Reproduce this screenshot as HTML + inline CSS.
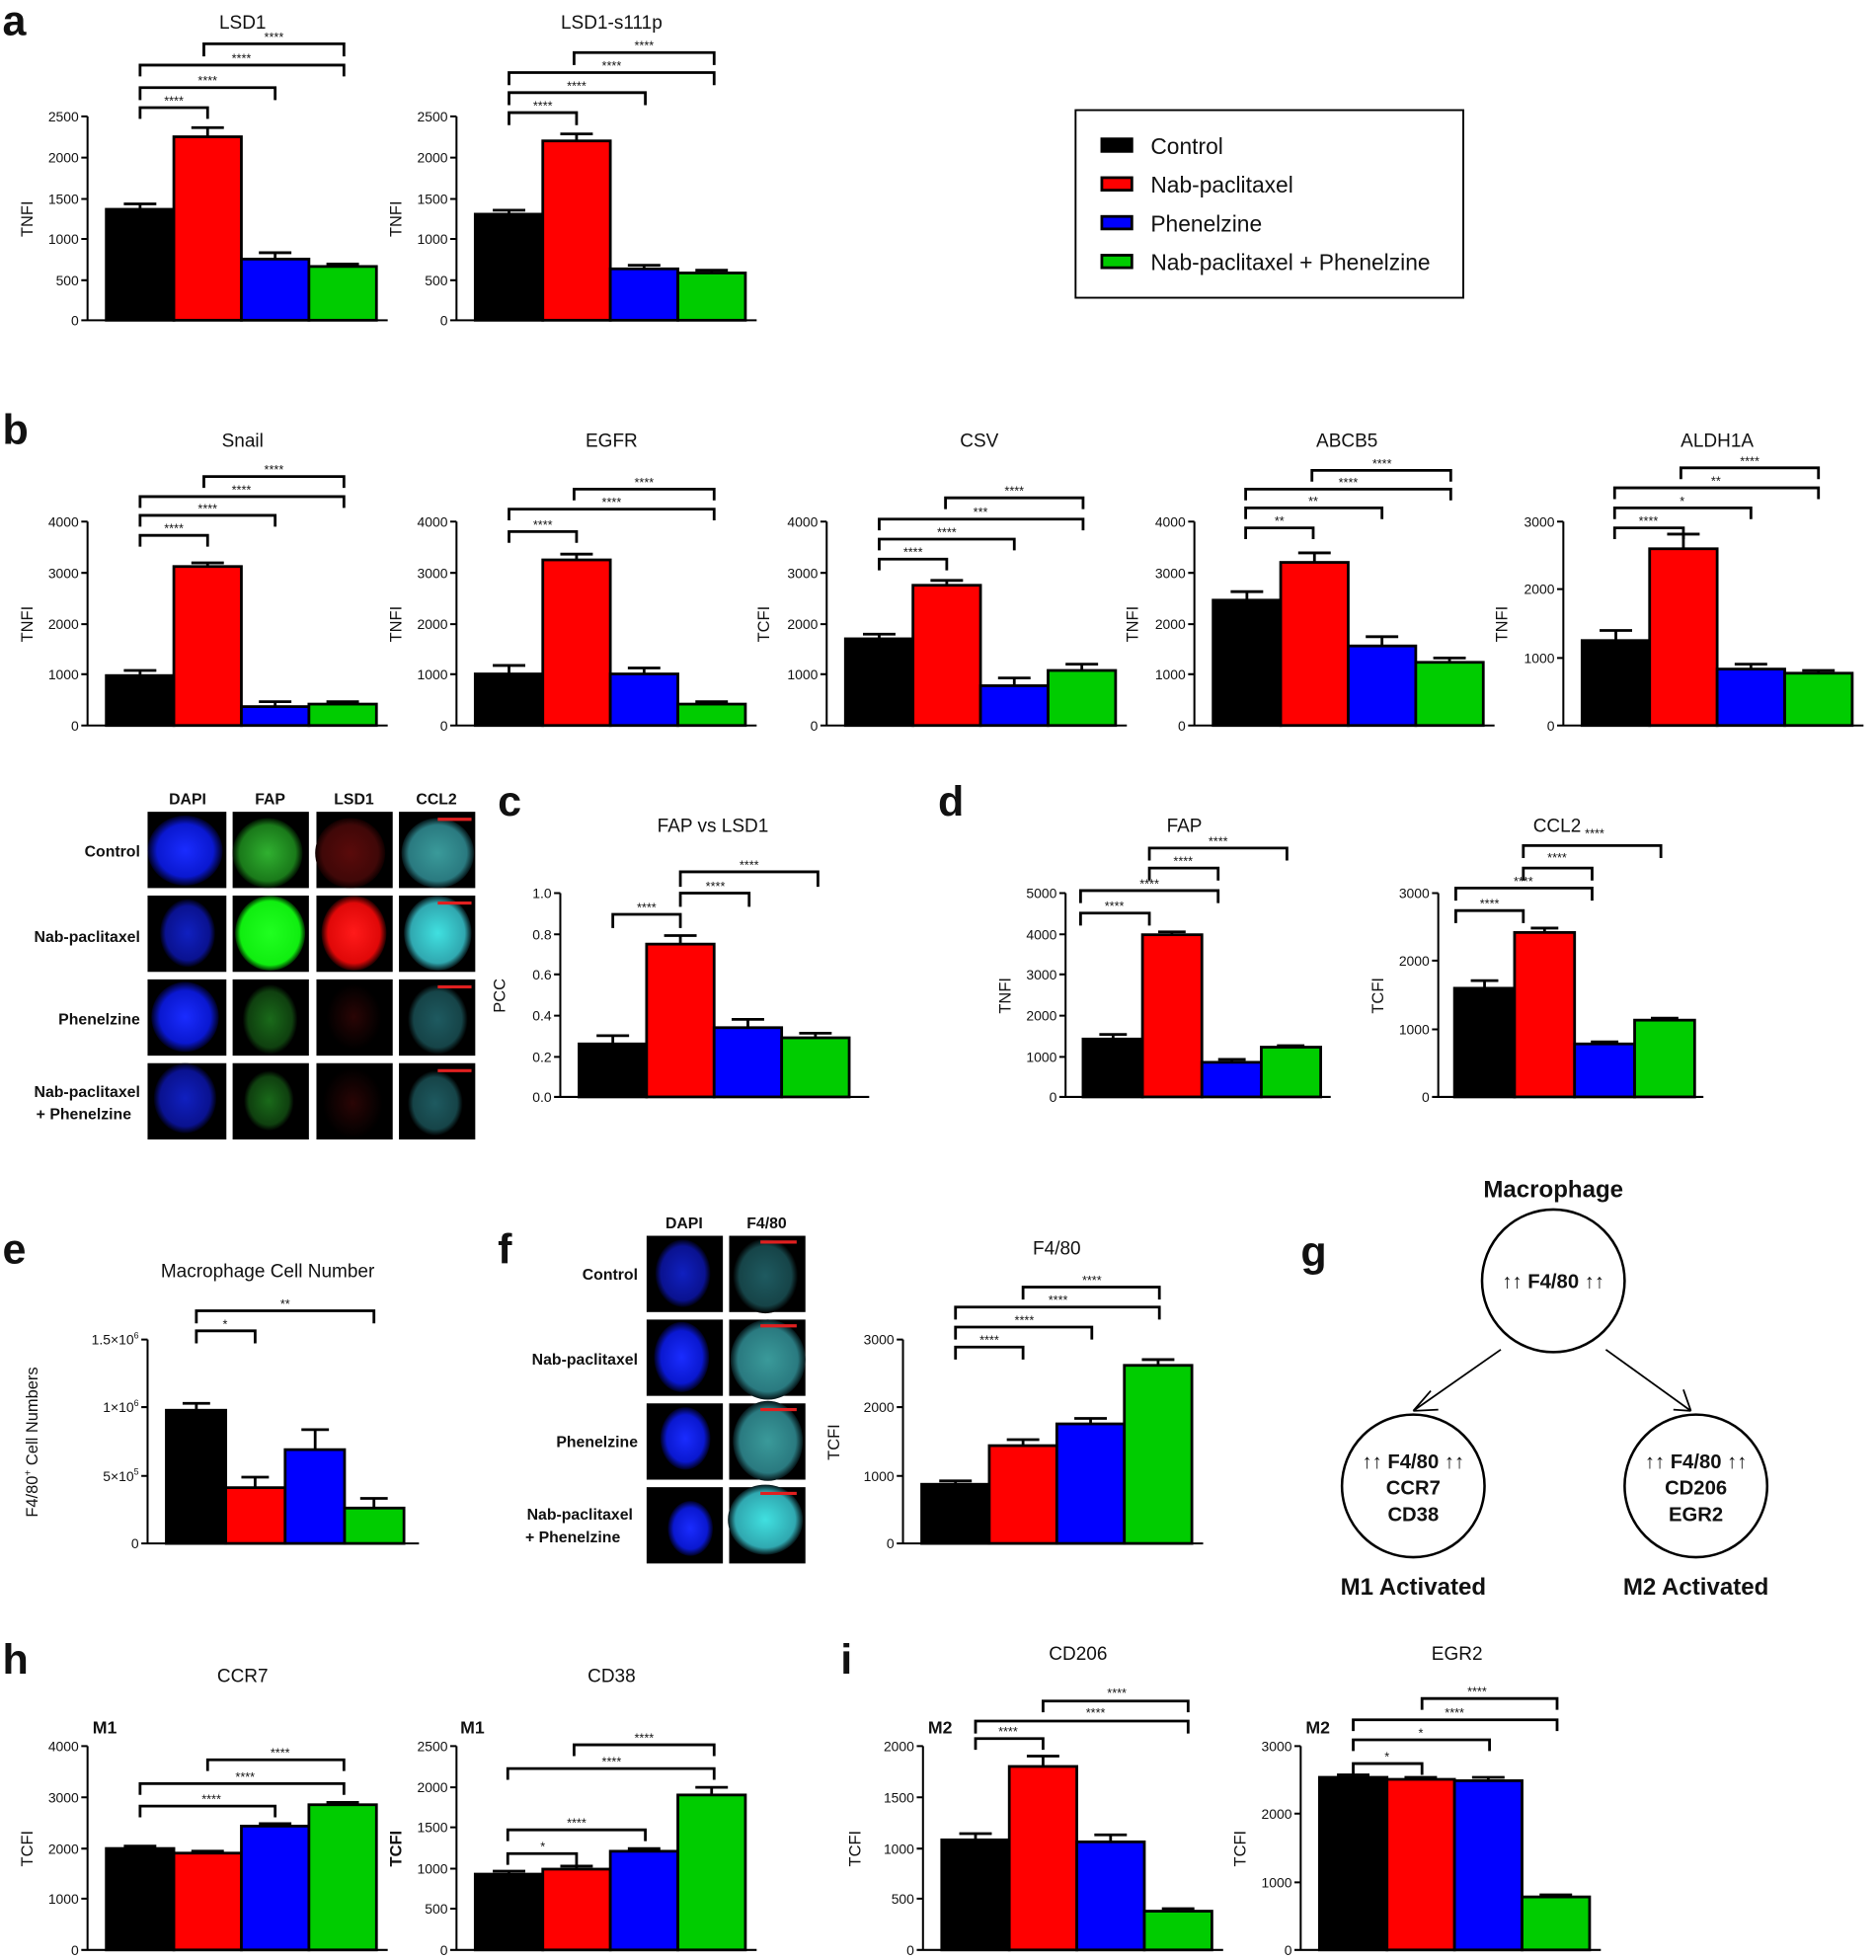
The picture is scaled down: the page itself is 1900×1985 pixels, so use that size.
<!DOCTYPE html>
<html><head><meta charset="utf-8"><style>
html,body{margin:0;padding:0;background:#fff}
svg{display:block}
text{font-family:"Liberation Sans",Arial,sans-serif;fill:#111}
.t{font-size:11px;text-anchor:end}
.ti{font-size:15px;text-anchor:middle}
.yl{font-size:13px;text-anchor:middle}
.s{font-size:10px;text-anchor:middle}
.pl{font-size:34px;font-weight:bold}
.ax,.br,.eb{fill:none;stroke:#000;stroke-width:1.6}
.br{stroke-width:2.2}
.eb{stroke-width:2.2}
rect.k,rect.r,rect.u,rect.g{stroke:#000;stroke-width:2.2}
.k{fill:#000}.r{fill:#ff0000}.u{fill:#0000ff}.g{fill:#00cc00}
.ml{font-size:12.5px;font-weight:bold;text-anchor:end}
.mh{font-size:12.5px;font-weight:bold;text-anchor:middle}
.gb{font-size:16px;font-weight:bold;text-anchor:middle}
.gl{font-size:19px;font-weight:bold;text-anchor:middle}
</style></head><body>
<svg width="1900" height="1985" viewBox="0 0 1500 1567" xmlns="http://www.w3.org/2000/svg">
<defs>
<radialGradient id="gb"><stop offset="0" stop-color="#1a2cff"/><stop offset="0.75" stop-color="#0a18d0"/><stop offset="1" stop-color="#000020"/></radialGradient>
<radialGradient id="gbd"><stop offset="0" stop-color="#1020c0"/><stop offset="0.8" stop-color="#0a1290"/><stop offset="1" stop-color="#000010"/></radialGradient>
<radialGradient id="gg"><stop offset="0" stop-color="#30b030"/><stop offset="0.8" stop-color="#1a7a1a"/><stop offset="1" stop-color="#001000"/></radialGradient>
<radialGradient id="ggb"><stop offset="0" stop-color="#20ff20"/><stop offset="0.85" stop-color="#10ee10"/><stop offset="1" stop-color="#003000"/></radialGradient>
<radialGradient id="ggd"><stop offset="0" stop-color="#1a6a1a"/><stop offset="0.8" stop-color="#0f400f"/><stop offset="1" stop-color="#000"/></radialGradient>
<radialGradient id="gr"><stop offset="0" stop-color="#5a0a0a"/><stop offset="0.8" stop-color="#400808"/><stop offset="1" stop-color="#100000"/></radialGradient>
<radialGradient id="grb"><stop offset="0" stop-color="#ff1a1a"/><stop offset="0.8" stop-color="#e00808"/><stop offset="1" stop-color="#200000"/></radialGradient>
<radialGradient id="grd"><stop offset="0" stop-color="#2a0505"/><stop offset="1" stop-color="#000"/></radialGradient>
<radialGradient id="gc"><stop offset="0" stop-color="#3a9a9a"/><stop offset="0.8" stop-color="#2a7a80"/><stop offset="1" stop-color="#051518"/></radialGradient>
<radialGradient id="gcb"><stop offset="0" stop-color="#40e0e0"/><stop offset="0.8" stop-color="#30a8b0"/><stop offset="1" stop-color="#051518"/></radialGradient>
<radialGradient id="gcd"><stop offset="0" stop-color="#1e5a60"/><stop offset="0.8" stop-color="#164448"/><stop offset="1" stop-color="#000"/></radialGradient>
</defs>

<!-- ===== a ===== -->
<text class="pl" x="2" y="28">a</text>
<text class="ti" x="194" y="23">LSD1</text>
<path class="ax" d="M70 93V256H310M65 93H70M65 126H70M65 159H70M65 191H70M65 224H70M65 256H70"/>
<text class="t" x="63" y="97">2500</text><text class="t" x="63" y="130">2000</text><text class="t" x="63" y="163">1500</text><text class="t" x="63" y="195">1000</text><text class="t" x="63" y="228">500</text><text class="t" x="63" y="260">0</text>
<text class="yl" transform="translate(26,175) rotate(-90)">TNFI</text>
<rect class="k" x="85" y="167.3" width="54" height="88.7"/><rect class="r" x="139" y="109.3" width="54" height="146.7"/><rect class="u" x="193" y="207.1" width="54" height="48.9"/><rect class="g" x="247" y="213" width="54" height="43"/>
<path class="eb" d="M112 167V163M99 163H125M166 109V102M153 102H179M220 207V202M207 202H233M274 213V211M261 211H287"/>
<path class="br" d="M112 95V86H166V95M112 80V70H220V80M112 61V52H275V61M163 45V35H275V45"/>
<text class="s" x="139" y="84">****</text><text class="s" x="166" y="68">****</text><text class="s" x="193" y="50">****</text><text class="s" x="219" y="33">****</text>

<text class="ti" x="489" y="23">LSD1-s111p</text>
<path class="ax" d="M365 93V256H605M360 93H365M360 126H365M360 159H365M360 191H365M360 224H365M360 256H365"/>
<text class="t" x="358" y="97">2500</text><text class="t" x="358" y="130">2000</text><text class="t" x="358" y="163">1500</text><text class="t" x="358" y="195">1000</text><text class="t" x="358" y="228">500</text><text class="t" x="358" y="260">0</text>
<text class="yl" transform="translate(321,175) rotate(-90)">TNFI</text>
<rect class="k" x="380" y="171.2" width="54" height="84.8"/><rect class="r" x="434" y="112.6" width="54" height="143.4"/><rect class="u" x="488" y="214.9" width="54" height="41.1"/><rect class="g" x="542" y="218.2" width="54" height="37.8"/>
<path class="eb" d="M407 171V168M394 168H420M461 112V107M448 107H474M515 215V212M502 212H528M569 218V216M556 216H582"/>
<path class="br" d="M407 100V90H461V100M407 84V74H516V84M407 68V58H571V68M459 52V42H571V52"/>
<text class="s" x="434" y="88">****</text><text class="s" x="461" y="72">****</text><text class="s" x="489" y="56">****</text><text class="s" x="515" y="40">****</text>

<rect x="860" y="88" width="310" height="150" fill="#fff" stroke="#000" stroke-width="1.5"/>
<rect class="k" x="881" y="111" width="24" height="10"/><text x="920" y="123" font-size="18">Control</text>
<rect class="r" x="881" y="142" width="24" height="10"/><text x="920" y="154" font-size="18">Nab-paclitaxel</text>
<rect class="u" x="881" y="173" width="24" height="10"/><text x="920" y="185" font-size="18">Phenelzine</text>
<rect class="g" x="881" y="204" width="24" height="10"/><text x="920" y="216" font-size="18">Nab-paclitaxel + Phenelzine</text>

<!-- ===== b ===== -->
<text class="pl" x="2" y="355">b</text>
<text class="ti" x="194" y="357">Snail</text>
<path class="ax" d="M70 417V580H310M65 417H70M65 458H70M65 499H70M65 539H70M65 580H70"/>
<text class="t" x="63" y="421">4000</text><text class="t" x="63" y="462">3000</text><text class="t" x="63" y="503">2000</text><text class="t" x="63" y="543">1000</text><text class="t" x="63" y="584">0</text>
<text class="yl" transform="translate(26,499) rotate(-90)">TNFI</text>
<rect class="k" x="85" y="540.1" width="54" height="39.9"/><rect class="r" x="139" y="452.9" width="54" height="127.1"/><rect class="u" x="193" y="564.9" width="54" height="15.1"/><rect class="g" x="247" y="562.9" width="54" height="17.1"/>
<path class="eb" d="M112 540V536M99 536H125M166 453V450M153 450H179M220 565V561M207 561H233M274 563V561M261 561H287"/>
<path class="br" d="M112 437V428H166V437M112 421V412H220V421M112 406V397H275V406M163 390V381H275V390"/>
<text class="s" x="139" y="426">****</text><text class="s" x="166" y="410">****</text><text class="s" x="193" y="395">****</text><text class="s" x="219" y="379">****</text>

<text class="ti" x="489" y="357">EGFR</text>
<path class="ax" d="M365 417V580H605M360 417H365M360 458H365M360 499H365M360 539H365M360 580H365"/>
<text class="t" x="358" y="421">4000</text><text class="t" x="358" y="462">3000</text><text class="t" x="358" y="503">2000</text><text class="t" x="358" y="543">1000</text><text class="t" x="358" y="584">0</text>
<text class="yl" transform="translate(321,499) rotate(-90)">TNFI</text>
<rect class="k" x="380" y="538.8" width="54" height="41.2"/><rect class="r" x="434" y="447.6" width="54" height="132.4"/><rect class="u" x="488" y="538.8" width="54" height="41.2"/><rect class="g" x="542" y="562.9" width="54" height="17.1"/>
<path class="eb" d="M407 539V532M394 532H420M461 448V443M448 443H474M515 539V534M502 534H528M569 563V561M556 561H582"/>
<path class="br" d="M407 434V425H461V434M407 416V407H571V416M459 400V391H571V400"/>
<text class="s" x="434" y="423">****</text><text class="s" x="489" y="405">****</text><text class="s" x="515" y="389">****</text>

<text class="ti" x="783" y="357">CSV</text>
<path class="ax" d="M661 417V580H901M656 417H661M656 458H661M656 499H661M656 539H661M656 580H661"/>
<text class="t" x="654" y="421">4000</text><text class="t" x="654" y="462">3000</text><text class="t" x="654" y="503">2000</text><text class="t" x="654" y="543">1000</text><text class="t" x="654" y="584">0</text>
<text class="yl" transform="translate(615,499) rotate(-90)">TCFI</text>
<rect class="k" x="676" y="510.7" width="54" height="69.3"/><rect class="r" x="730" y="467.9" width="54" height="112.1"/><rect class="u" x="784" y="548.2" width="54" height="31.8"/><rect class="g" x="838" y="536" width="54" height="44"/>
<path class="eb" d="M703 511V507M690 507H716M757 468V464M744 464H770M811 548V542M798 542H824M865 536V531M852 531H878"/>
<path class="br" d="M703 456V447H757V456M703 440V431H811V440M703 424V415H866V424M756 407V398H866V407"/>
<text class="s" x="730" y="445">****</text><text class="s" x="757" y="429">****</text><text class="s" x="784" y="413">***</text><text class="s" x="811" y="396">****</text>

<text class="ti" x="1077" y="357">ABCB5</text>
<path class="ax" d="M955 417V580H1195M950 417H955M950 458H955M950 499H955M950 539H955M950 580H955"/>
<text class="t" x="948" y="421">4000</text><text class="t" x="948" y="462">3000</text><text class="t" x="948" y="503">2000</text><text class="t" x="948" y="543">1000</text><text class="t" x="948" y="584">0</text>
<text class="yl" transform="translate(910,499) rotate(-90)">TNFI</text>
<rect class="k" x="970" y="479.8" width="54" height="100.2"/><rect class="r" x="1024" y="449.6" width="54" height="130.4"/><rect class="u" x="1078" y="516.4" width="54" height="63.6"/><rect class="g" x="1132" y="529.5" width="54" height="50.5"/>
<path class="eb" d="M997 480V473M984 473H1010M1051 450V442M1038 442H1064M1105 516V509M1092 509H1118M1159 530V526M1146 526H1172"/>
<path class="br" d="M996 431V422H1050V431M996 415V406H1105V415M996 400V391H1160V400M1049 385V376H1160V385"/>
<text class="s" x="1023" y="420">**</text><text class="s" x="1050" y="404">**</text><text class="s" x="1078" y="389">****</text><text class="s" x="1105" y="374">****</text>

<text class="ti" x="1373" y="357">ALDH1A</text>
<path class="ax" d="M1250 417V580H1490M1245 417H1250M1245 471H1250M1245 526H1250M1245 580H1250"/>
<text class="t" x="1243" y="421">3000</text><text class="t" x="1243" y="475">2000</text><text class="t" x="1243" y="530">1000</text><text class="t" x="1243" y="584">0</text>
<text class="yl" transform="translate(1205,499) rotate(-90)">TNFI</text>
<rect class="k" x="1265" y="512.1" width="54" height="67.9"/><rect class="r" x="1319" y="438.7" width="54" height="141.3"/><rect class="u" x="1373" y="534.9" width="54" height="45.1"/><rect class="g" x="1427" y="538.2" width="54" height="41.8"/>
<path class="eb" d="M1292 512V504M1279 504H1305M1346 439V427M1333 427H1359M1400 535V531M1387 531H1413M1454 538V536M1441 536H1467"/>
<path class="br" d="M1291 431V422H1346V431M1291 415V406H1400V415M1291 399V390H1454V399M1344 383V374H1454V383"/>
<text class="s" x="1318" y="420">****</text><text class="s" x="1345" y="404">*</text><text class="s" x="1372" y="388">**</text><text class="s" x="1399" y="372">****</text>

<!-- ===== microscopy ===== -->
<text class="mh" x="150" y="643">DAPI</text><text class="mh" x="216" y="643">FAP</text><text class="mh" x="283" y="643">LSD1</text><text class="mh" x="349" y="643">CCL2</text>
<text class="ml" x="112" y="685">Control</text>
<text class="ml" x="112" y="753">Nab-paclitaxel</text>
<text class="ml" x="112" y="819">Phenelzine</text>
<text class="ml" x="112" y="877">Nab-paclitaxel</text><text class="ml" x="105" y="895">+ Phenelzine</text>
<g>
<rect x="118" y="649" width="63" height="61" fill="#000"/><ellipse cx="148" cy="680" rx="30" ry="28" fill="url(#gb)"/>
<rect x="186" y="649" width="61" height="61" fill="#000"/><ellipse cx="214" cy="682" rx="28" ry="28" fill="url(#gg)"/>
<rect x="253" y="649" width="61" height="61" fill="#000"/><ellipse cx="280" cy="682" rx="28" ry="28" fill="url(#gr)"/>
<rect x="319" y="649" width="61" height="61" fill="#000"/><ellipse cx="350" cy="682" rx="29" ry="28" fill="url(#gc)"/>
<rect x="118" y="716" width="63" height="61" fill="#000"/><ellipse cx="150" cy="746" rx="22" ry="27" fill="url(#gbd)"/>
<rect x="186" y="716" width="61" height="61" fill="#000"/><ellipse cx="216" cy="746" rx="28" ry="30" fill="url(#ggb)"/>
<rect x="253" y="716" width="61" height="61" fill="#000"/><ellipse cx="283" cy="746" rx="26" ry="30" fill="url(#grb)"/>
<rect x="319" y="716" width="61" height="61" fill="#000"/><ellipse cx="350" cy="746" rx="27" ry="30" fill="url(#gcb)"/>
<rect x="118" y="783" width="63" height="61" fill="#000"/><ellipse cx="148" cy="813" rx="27" ry="28" fill="url(#gb)"/>
<rect x="186" y="783" width="61" height="61" fill="#000"/><ellipse cx="216" cy="815" rx="22" ry="28" fill="url(#ggd)"/>
<rect x="253" y="783" width="61" height="61" fill="#000"/><ellipse cx="283" cy="813" rx="22" ry="26" fill="url(#grd)"/>
<rect x="319" y="783" width="61" height="61" fill="#000"/><ellipse cx="350" cy="815" rx="24" ry="28" fill="url(#gcd)"/>
<rect x="118" y="850" width="63" height="61" fill="#000"/><ellipse cx="148" cy="878" rx="25" ry="28" fill="url(#gbd)"/>
<rect x="186" y="850" width="61" height="61" fill="#000"/><ellipse cx="215" cy="880" rx="20" ry="24" fill="url(#ggd)"/>
<rect x="253" y="850" width="61" height="61" fill="#000"/><ellipse cx="282" cy="882" rx="24" ry="28" fill="url(#grd)"/>
<rect x="319" y="850" width="61" height="61" fill="#000"/><ellipse cx="348" cy="882" rx="22" ry="26" fill="url(#gcd)"/>
<path d="M350 655H377M350 722H377M350 789H377M350 856H377" stroke="#e02020" stroke-width="2.5"/>
</g>

<!-- ===== c ===== -->
<text class="pl" x="398" y="652">c</text>
<text class="ti" x="570" y="665">FAP vs LSD1</text>
<path class="ax" d="M448 714V877H695M443 714H448M443 747H448M443 779H448M443 812H448M443 845H448M443 877H448"/>
<text class="t" x="441" y="718">1.0</text><text class="t" x="441" y="751">0.8</text><text class="t" x="441" y="783">0.6</text><text class="t" x="441" y="816">0.4</text><text class="t" x="441" y="849">0.2</text><text class="t" x="441" y="881">0.0</text>
<text class="yl" transform="translate(404,796) rotate(-90)">PCC</text>
<rect class="k" x="463" y="834.6" width="54" height="42.4"/><rect class="r" x="517" y="754.8" width="54" height="122.2"/><rect class="u" x="571" y="821.6" width="54" height="55.4"/><rect class="g" x="625" y="829.7" width="54" height="47.3"/>
<path class="eb" d="M490 835V828M477 828H503M544 755V748M531 748H557M598 822V815M585 815H611M652 830V826M639 826H665"/>
<path class="br" d="M490 742V731H544V742M544 725V714H599V725M544 709V697H654V709"/>
<text class="s" x="517" y="729">****</text><text class="s" x="572" y="712">****</text><text class="s" x="599" y="695">****</text>

<!-- ===== d ===== -->
<text class="pl" x="750" y="652">d</text>
<text class="ti" x="947" y="665">FAP</text>
<path class="ax" d="M852 714V877H1064M847 714H852M847 747H852M847 779H852M847 812H852M847 845H852M847 877H852"/>
<text class="t" x="845" y="718">5000</text><text class="t" x="845" y="751">4000</text><text class="t" x="845" y="783">3000</text><text class="t" x="845" y="816">2000</text><text class="t" x="845" y="849">1000</text><text class="t" x="845" y="881">0</text>
<text class="yl" transform="translate(808,796) rotate(-90)">TNFI</text>
<rect class="k" x="866" y="830.7" width="47.5" height="46.3"/><rect class="r" x="913.5" y="747.3" width="47.5" height="129.7"/><rect class="u" x="961" y="849.3" width="47.5" height="27.7"/><rect class="g" x="1008.5" y="837.2" width="47.5" height="39.8"/>
<path class="eb" d="M890 831V827M879 827H901M937 747V745M926 745H948M985 849V847M974 847H996M1032 837V836M1021 836H1043"/>
<path class="br" d="M864 740V730H919V740M864 722V712H974V722M919 704V694H974V704M919 688V678H1029V688"/>
<text class="s" x="891" y="728">****</text><text class="s" x="919" y="710">****</text><text class="s" x="946" y="692">****</text><text class="s" x="974" y="676">****</text>

<text class="ti" x="1245" y="665">CCL2</text>
<path class="ax" d="M1150 714V877H1362M1145 714H1150M1145 768H1150M1145 823H1150M1145 877H1150"/>
<text class="t" x="1143" y="718">3000</text><text class="t" x="1143" y="772">2000</text><text class="t" x="1143" y="827">1000</text><text class="t" x="1143" y="881">0</text>
<text class="yl" transform="translate(1106,796) rotate(-90)">TCFI</text>
<rect class="k" x="1163" y="790.1" width="48" height="86.9"/><rect class="r" x="1211" y="745.5" width="48" height="131.5"/><rect class="u" x="1259" y="834.6" width="48" height="42.4"/><rect class="g" x="1307" y="815.6" width="48" height="61.4"/>
<path class="eb" d="M1187 790V784M1176 784H1198M1235 746V742M1224 742H1246M1283 835V833M1272 833H1294M1331 816V814M1320 814H1342"/>
<path class="br" d="M1164 738V728H1218V738M1164 720V710H1273V720M1218 704V694H1273V704M1218 686V676H1328V686"/>
<text class="s" x="1191" y="726">****</text><text class="s" x="1218" y="708">****</text><text class="s" x="1245" y="689">****</text><text class="s" x="1275" y="670">****</text>

<!-- ===== e ===== -->
<text class="pl" x="2" y="1010">e</text>
<text class="ti" x="214" y="1021">Macrophage Cell Number</text>
<path class="ax" d="M118 1071V1234H335M113 1071H118M113 1125H118M113 1180H118M113 1234H118"/>
<text class="t" x="111" y="1075">1.5×10<tspan font-size="7" dy="-5">6</tspan></text>
<text class="t" x="111" y="1129">1×10<tspan font-size="7" dy="-5">6</tspan></text>
<text class="t" x="111" y="1184">5×10<tspan font-size="7" dy="-5">5</tspan></text>
<text class="t" x="111" y="1238">0</text>
<text class="yl" transform="translate(30,1153) rotate(-90)">F4/80<tspan font-size="8" dy="-5">+</tspan><tspan dy="5"> Cell Numbers</tspan></text>
<rect class="k" x="133" y="1127.5" width="47.5" height="106.5"/><rect class="r" x="180.5" y="1189.4" width="47.5" height="44.6"/><rect class="u" x="228" y="1159" width="47.5" height="75"/><rect class="g" x="275.5" y="1205.7" width="47.5" height="28.3"/>
<path class="eb" d="M157 1128V1122M146 1122H168M204 1189V1181M193 1181H215M252 1159V1143M241 1143H263M299 1206V1198M288 1198H310"/>
<path class="br" d="M157 1074V1064H204V1074M157 1058V1048H299V1058"/>
<text class="s" x="180" y="1062">*</text><text class="s" x="228" y="1046">**</text>

<!-- ===== f ===== -->
<text class="pl" x="398" y="1010">f</text>
<text class="mh" x="547" y="982">DAPI</text><text class="mh" x="613" y="982">F4/80</text>
<text class="ml" x="510" y="1023">Control</text>
<text class="ml" x="510" y="1091">Nab-paclitaxel</text>
<text class="ml" x="510" y="1157">Phenelzine</text>
<text class="ml" x="506" y="1215">Nab-paclitaxel</text><text class="ml" x="496" y="1233">+ Phenelzine</text>
<rect x="517" y="988" width="61" height="61" fill="#000"/><ellipse cx="546" cy="1018" rx="22" ry="27" fill="url(#gbd)"/>
<rect x="583" y="988" width="61" height="61" fill="#000"/><ellipse cx="612" cy="1020" rx="26" ry="30" fill="url(#gcd)"/>
<rect x="517" y="1055" width="61" height="61" fill="#000"/><ellipse cx="545" cy="1085" rx="22" ry="28" fill="url(#gb)"/>
<rect x="583" y="1055" width="61" height="61" fill="#000"/><ellipse cx="614" cy="1087" rx="30" ry="32" fill="url(#gc)"/>
<rect x="517" y="1122" width="61" height="61" fill="#000"/><ellipse cx="548" cy="1150" rx="20" ry="25" fill="url(#gb)"/>
<rect x="583" y="1122" width="61" height="61" fill="#000"/><ellipse cx="614" cy="1152" rx="28" ry="32" fill="url(#gc)"/>
<rect x="517" y="1189" width="61" height="61" fill="#000"/><ellipse cx="552" cy="1222" rx="18" ry="22" fill="url(#gb)"/>
<rect x="583" y="1189" width="61" height="61" fill="#000"/><ellipse cx="612" cy="1215" rx="30" ry="28" fill="url(#gcb)"/>
<path d="M608 993H637M608 1060H637M608 1127H637M608 1194H637" stroke="#e02020" stroke-width="2.5"/>

<text class="ti" x="845" y="1003">F4/80</text>
<path class="ax" d="M722 1071V1234H962M717 1071H722M717 1125H722M717 1180H722M717 1234H722"/>
<text class="t" x="715" y="1075">3000</text><text class="t" x="715" y="1129">2000</text><text class="t" x="715" y="1184">1000</text><text class="t" x="715" y="1238">0</text>
<text class="yl" transform="translate(671,1153) rotate(-90)">TCFI</text>
<rect class="k" x="737" y="1186.7" width="54" height="47.3"/><rect class="r" x="791" y="1155.8" width="54" height="78.2"/><rect class="u" x="845" y="1138.4" width="54" height="95.6"/><rect class="g" x="899" y="1091.6" width="54" height="142.4"/>
<path class="eb" d="M764 1187V1184M751 1184H777M818 1156V1151M805 1151H831M872 1138V1134M859 1134H885M926 1092V1087M913 1087H939"/>
<path class="br" d="M764 1087V1077H818V1087M764 1071V1061H873V1071M764 1055V1045H927V1055M818 1039V1029H927V1039"/>
<text class="s" x="791" y="1075">****</text><text class="s" x="819" y="1059">****</text><text class="s" x="846" y="1043">****</text><text class="s" x="873" y="1027">****</text>

<!-- ===== g ===== -->
<text class="pl" x="1040" y="1012">g</text>
<text class="gl" x="1242" y="957">Macrophage</text>
<circle cx="1242" cy="1024" r="57" fill="none" stroke="#000" stroke-width="2"/>
<text class="gb" x="1242" y="1030"><tspan font-weight="normal">↑↑</tspan> F4/80 <tspan font-weight="normal">↑↑</tspan></text>
<circle cx="1130" cy="1188" r="57" fill="none" stroke="#000" stroke-width="2"/>
<circle cx="1356" cy="1188" r="57" fill="none" stroke="#000" stroke-width="2"/>
<path d="M1200 1079L1130 1128M1130 1128L1144 1112M1130 1128L1150 1127M1284 1079L1352 1128M1352 1128L1338 1127M1352 1128L1346 1111" fill="none" stroke="#000" stroke-width="1.4"/>
<text class="gb" x="1130" y="1174"><tspan font-weight="normal">↑↑</tspan> F4/80 <tspan font-weight="normal">↑↑</tspan></text>
<text class="gb" x="1130" y="1195">CCR7</text><text class="gb" x="1130" y="1216">CD38</text>
<text class="gb" x="1356" y="1174"><tspan font-weight="normal">↑↑</tspan> F4/80 <tspan font-weight="normal">↑↑</tspan></text>
<text class="gb" x="1356" y="1195">CD206</text><text class="gb" x="1356" y="1216">EGR2</text>
<text class="gl" x="1130" y="1275">M1 Activated</text>
<text class="gl" x="1356" y="1275">M2 Activated</text>

<!-- ===== h ===== -->
<text class="pl" x="2" y="1338">h</text>
<text class="ti" x="194" y="1345">CCR7</text>
<text x="74" y="1386" font-size="14" font-weight="bold">M1</text>
<path class="ax" d="M70 1396V1559H310M65 1396H70M65 1437H70M65 1478H70M65 1518H70M65 1559H70"/>
<text class="t" x="63" y="1400">4000</text><text class="t" x="63" y="1441">3000</text><text class="t" x="63" y="1482">2000</text><text class="t" x="63" y="1522">1000</text><text class="t" x="63" y="1563">0</text>
<text class="yl" transform="translate(26,1478) rotate(-90)">TCFI</text>
<rect class="k" x="85" y="1477.9" width="54" height="81.1"/><rect class="r" x="139" y="1481.6" width="54" height="77.4"/><rect class="u" x="193" y="1460" width="54" height="99"/><rect class="g" x="247" y="1442.9" width="54" height="116.1"/>
<path class="eb" d="M112 1478V1476M99 1476H125M166 1482V1480M153 1480H179M220 1460V1458M207 1458H233M274 1443V1441M261 1441H287"/>
<path class="br" d="M166 1416V1407H275V1416M112 1435V1426H275V1435M112 1453V1444H220V1453"/>
<text class="s" x="224" y="1405">****</text><text class="s" x="196" y="1424">****</text><text class="s" x="169" y="1442">****</text>

<text class="ti" x="489" y="1345">CD38</text>
<text x="368" y="1386" font-size="14" font-weight="bold">M1</text>
<path class="ax" d="M365 1396V1559H605M360 1396H365M360 1429H365M360 1461H365M360 1494H365M360 1526H365M360 1559H365"/>
<text class="t" x="358" y="1400">2500</text><text class="t" x="358" y="1433">2000</text><text class="t" x="358" y="1465">1500</text><text class="t" x="358" y="1498">1000</text><text class="t" x="358" y="1530">500</text><text class="t" x="358" y="1563">0</text>
<text class="yl" transform="translate(321,1478) rotate(-90)" font-weight="bold">TCFI</text>
<rect class="k" x="380" y="1498.4" width="54" height="60.6"/><rect class="r" x="434" y="1494.4" width="54" height="64.6"/><rect class="u" x="488" y="1480.1" width="54" height="78.9"/><rect class="g" x="542" y="1435.1" width="54" height="123.9"/>
<path class="eb" d="M407 1498V1496M394 1496H420M461 1494V1492M448 1492H474M515 1480V1478M502 1478H528M569 1435V1429M556 1429H582"/>
<path class="br" d="M459 1404V1395H571V1404M406 1423V1414H571V1423M406 1472V1463H516V1472M406 1491V1482H461V1491"/>
<text class="s" x="515" y="1393">****</text><text class="s" x="489" y="1412">****</text><text class="s" x="461" y="1461">****</text><text class="s" x="434" y="1480">*</text>

<!-- ===== i ===== -->
<text class="pl" x="672" y="1338">i</text>
<text class="ti" x="862" y="1327">CD206</text>
<text x="742" y="1386" font-size="14" font-weight="bold">M2</text>
<path class="ax" d="M738 1396V1559H978M733 1396H738M733 1437H738M733 1478H738M733 1518H738M733 1559H738"/>
<text class="t" x="731" y="1400">2000</text><text class="t" x="731" y="1441">1500</text><text class="t" x="731" y="1482">1000</text><text class="t" x="731" y="1522">500</text><text class="t" x="731" y="1563">0</text>
<text class="yl" transform="translate(688,1478) rotate(-90)">TCFI</text>
<rect class="k" x="753" y="1471" width="54" height="88"/><rect class="r" x="807" y="1412.3" width="54" height="146.7"/><rect class="u" x="861" y="1472.6" width="54" height="86.4"/><rect class="g" x="915" y="1528" width="54" height="31"/>
<path class="eb" d="M780 1471V1466M767 1466H793M834 1412V1404M821 1404H847M888 1473V1467M875 1467H901M942 1528V1526M929 1526H955"/>
<path class="br" d="M780 1399V1390H834V1399M780 1386V1376H950V1386M834 1369V1360H950V1369"/>
<text class="s" x="806" y="1388">****</text><text class="s" x="876" y="1373">****</text><text class="s" x="893" y="1357">****</text>

<text class="ti" x="1165" y="1327">EGR2</text>
<text x="1044" y="1386" font-size="14" font-weight="bold">M2</text>
<path class="ax" d="M1040 1396V1559H1280M1035 1396H1040M1035 1450H1040M1035 1505H1040M1035 1559H1040"/>
<text class="t" x="1033" y="1400">3000</text><text class="t" x="1033" y="1454">2000</text><text class="t" x="1033" y="1509">1000</text><text class="t" x="1033" y="1563">0</text>
<text class="yl" transform="translate(996,1478) rotate(-90)">TCFI</text>
<rect class="k" x="1055" y="1421" width="54" height="138"/><rect class="r" x="1109" y="1422.6" width="54" height="136.4"/><rect class="u" x="1163" y="1423.7" width="54" height="135.3"/><rect class="g" x="1217" y="1516.6" width="54" height="42.4"/>
<path class="eb" d="M1082 1421V1419M1069 1419H1095M1136 1423V1421M1123 1421H1149M1190 1424V1421M1177 1421H1203M1244 1517V1515M1231 1515H1257"/>
<path class="br" d="M1082 1419V1410H1137V1419M1082 1400V1391H1191V1400M1082 1384V1375H1245V1384M1137 1367V1358H1245V1367"/>
<text class="s" x="1109" y="1408">*</text><text class="s" x="1136" y="1389">*</text><text class="s" x="1163" y="1373">****</text><text class="s" x="1181" y="1356">****</text>
</svg>
</body></html>
